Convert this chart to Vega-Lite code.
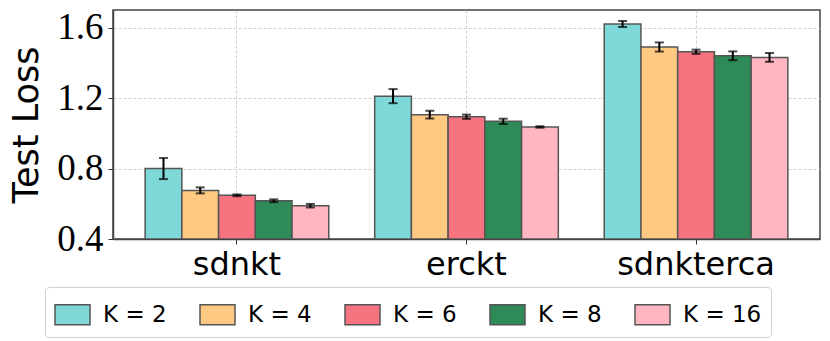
{
  "$schema": "https://vega.github.io/schema/vega-lite/v6.json",
  "autosize": {"type": "none"},
  "padding": {"left": 113, "top": 10, "right": 10, "bottom": 102},
  "width": 707,
  "height": 229,
  "background": "white",
  "config": {
    "view": {"stroke": "#444444", "strokeWidth": 1.5},
    "axis": {
      "domain": true,
      "domainColor": "#444444",
      "domainWidth": 1.5,
      "grid": true,
      "gridColor": "#c4c4c4",
      "gridDash": [3, 2],
      "gridWidth": 0.8,
      "tickColor": "#333333",
      "tickSize": 5,
      "tickWidth": 1,
      "labelColor": "black",
      "titleColor": "black",
      "zindex": 1
    }
  },
  "data": {
    "values": [
      {"dataset": "sdnkt", "K": "K = 2", "value": 0.800, "lo": 0.740, "hi": 0.860},
      {"dataset": "sdnkt", "K": "K = 4", "value": 0.676, "lo": 0.659, "hi": 0.693},
      {"dataset": "sdnkt", "K": "K = 6", "value": 0.648, "lo": 0.643, "hi": 0.653},
      {"dataset": "sdnkt", "K": "K = 8", "value": 0.617, "lo": 0.609, "hi": 0.625},
      {"dataset": "sdnkt", "K": "K = 16", "value": 0.589, "lo": 0.579, "hi": 0.599},
      {"dataset": "erckt", "K": "K = 2", "value": 1.211, "lo": 1.171, "hi": 1.251},
      {"dataset": "erckt", "K": "K = 4", "value": 1.106, "lo": 1.084, "hi": 1.128},
      {"dataset": "erckt", "K": "K = 6", "value": 1.094, "lo": 1.082, "hi": 1.106},
      {"dataset": "erckt", "K": "K = 8", "value": 1.068, "lo": 1.053, "hi": 1.083},
      {"dataset": "erckt", "K": "K = 16", "value": 1.036, "lo": 1.032, "hi": 1.040},
      {"dataset": "sdnkterca", "K": "K = 2", "value": 1.620, "lo": 1.603, "hi": 1.637},
      {"dataset": "sdnkterca", "K": "K = 4", "value": 1.490, "lo": 1.464, "hi": 1.516},
      {"dataset": "sdnkterca", "K": "K = 6", "value": 1.463, "lo": 1.451, "hi": 1.475},
      {"dataset": "sdnkterca", "K": "K = 8", "value": 1.440, "lo": 1.415, "hi": 1.465},
      {"dataset": "sdnkterca", "K": "K = 16", "value": 1.431, "lo": 1.406, "hi": 1.456}
    ]
  },
  "encoding": {
    "x": {
      "field": "dataset",
      "type": "nominal",
      "sort": ["sdnkt", "erckt", "sdnkterca"],
      "scale": {"paddingInner": 0.2, "paddingOuter": 0.14},
      "axis": {
        "title": null,
        "labelAngle": 0,
        "labelFont": "DejaVu Sans",
        "labelFontSize": 32,
        "labelPadding": 5
      }
    },
    "xOffset": {
      "field": "K",
      "type": "nominal",
      "sort": ["K = 2", "K = 4", "K = 6", "K = 8", "K = 16"]
    }
  },
  "layer": [
    {
      "mark": {"type": "bar", "stroke": "#555555", "strokeWidth": 1.5, "clip": true},
      "encoding": {
        "y": {
          "field": "value",
          "type": "quantitative",
          "scale": {"domain": [0.4, 1.7], "nice": false, "zero": false},
          "axis": {
            "values": [0.4, 0.8, 1.2, 1.6],
            "format": ".1f",
            "title": "Test Loss",
            "titleFont": "DejaVu Sans",
            "titleFontSize": 35,
            "titleFontWeight": "normal",
            "titlePadding": 12,
            "labelFont": "Liberation Serif",
            "labelFontSize": 37,
            "labelPadding": 5
          }
        },
        "y2": {"datum": 0.4},
        "color": {
          "field": "K",
          "type": "nominal",
          "sort": ["K = 2", "K = 4", "K = 6", "K = 8", "K = 16"],
          "scale": {
            "domain": ["K = 2", "K = 4", "K = 6", "K = 8", "K = 16"],
            "range": ["#7ed8d8", "#fec983", "#f87380", "#2e8b57", "#ffb6c1"]
          },
          "legend": {
            "orient": "none",
            "legendX": -68,
            "legendY": 277,
            "direction": "horizontal",
            "columns": 5,
            "title": null,
            "strokeColor": "#d0d0d0",
            "fillColor": "white",
            "cornerRadius": 4,
            "padding": 9,
            "symbolType": "M-1,-0.571H1V0.571H-1Z",
            "symbolSize": 1225,
            "symbolStrokeColor": "#555555",
            "symbolStrokeWidth": 1.5,
            "symbolOpacity": 1,
            "labelFont": "DejaVu Sans",
            "labelFontSize": 23,
            "labelColor": "black",
            "labelOffset": 12,
            "columnPadding": 30
          }
        }
      }
    },
    {
      "mark": {"type": "rule", "color": "black", "strokeWidth": 2},
      "encoding": {
        "y": {"field": "lo", "type": "quantitative"},
        "y2": {"field": "hi"}
      }
    },
    {
      "mark": {"type": "tick", "color": "black", "thickness": 2, "size": 9},
      "encoding": {
        "y": {"field": "lo", "type": "quantitative"}
      }
    },
    {
      "mark": {"type": "tick", "color": "black", "thickness": 2, "size": 9},
      "encoding": {
        "y": {"field": "hi", "type": "quantitative"}
      }
    }
  ]
}
